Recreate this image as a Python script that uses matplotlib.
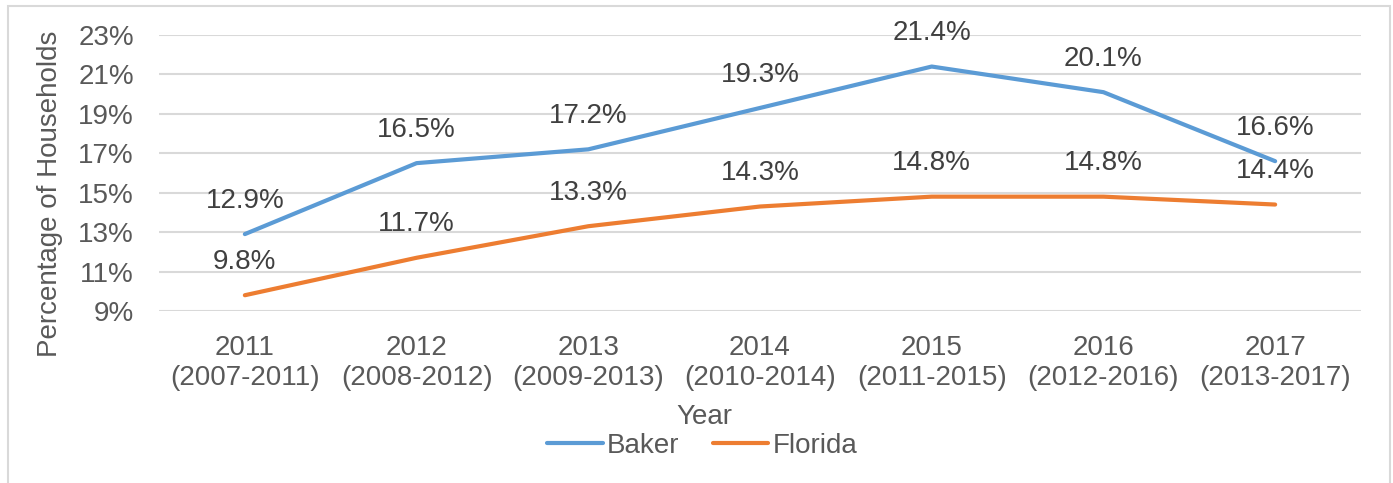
import matplotlib.pyplot as plt
from matplotlib.patches import Rectangle
from matplotlib.ticker import FuncFormatter

plt.rcParams['font.family'] = ['Liberation Sans', 'DejaVu Sans']

# data
years = ['2011\n(2007-2011)', '2012\n(2008-2012)', '2013\n(2009-2013)', '2014\n(2010-2014)',
         '2015\n(2011-2015)', '2016\n(2012-2016)', '2017\n(2013-2017)']
baker = [12.9, 16.5, 17.2, 19.3, 21.4, 20.1, 16.6]
florida = [9.8, 11.7, 13.3, 14.3, 14.8, 14.8, 14.4]
yticks = [9, 11, 13, 15, 17, 19, 21, 23]

grey = '#595959'
fs = 20

fig = plt.figure(figsize=(13.93, 4.83), dpi=100)
ax = fig.add_axes([159 / 1393, 1 - 311 / 483, 1202 / 1393, 276 / 483])

x = range(len(years))
ax.plot(x, baker, color='#5B9BD5', lw=3, solid_capstyle='round', label='Baker', zorder=3)
ax.plot(x, florida, color='#ED7D31', lw=3, solid_capstyle='round', label='Florida', zorder=3)

for i in x:
    ax.annotate(f'{baker[i]:.1f}%', (i, baker[i]), xytext=(0, 24), textcoords='offset points',
                ha='center', va='center', fontsize=fs, color='#404040')
    ax.annotate(f'{florida[i]:.1f}%', (i, florida[i]), xytext=(0, 24), textcoords='offset points',
                ha='center', va='center', fontsize=fs, color='#404040')

ax.set_xlim(-0.5, 6.5)
ax.set_ylim(9, 23)
ax.set_yticks(yticks)
ax.yaxis.set_major_formatter(FuncFormatter(lambda v, p: f'{v:.0f}%'))
ax.set_xticks(list(x))
ax.set_xticklabels(years, linespacing=1.2)
ax.tick_params(axis='both', length=0, labelsize=fs, labelcolor=grey)
ax.tick_params(axis='x', pad=17)
ax.tick_params(axis='y', pad=18)
ax.grid(axis='y', color='#D9D9D9', lw=1.5)
ax.set_axisbelow(True)
for s in ax.spines.values():
    s.set_visible(False)

fig.text(50 / 1393, 1 - 194 / 483, 'Percentage of Households', rotation=90,
         ha='center', va='center', fontsize=fs, color=grey)
fig.text(0.5 + 8 / 1393, 1 - 417 / 483, 'Year', ha='center', va='center', fontsize=fs, color=grey)

fig.legend(loc='center', bbox_to_anchor=(702 / 1393, 1 - 446 / 483), ncol=2, frameon=False,
           fontsize=fs, labelcolor=grey, handlelength=2.0, handletextpad=0.15, columnspacing=1.2)

fig.patches.append(Rectangle((8 / 1393, -0.02), 1382 / 1393, 1.02 - 6 / 483,
                             transform=fig.transFigure, fill=False, edgecolor='#D9D9D9', lw=1.5))

fig.savefig('out.png', dpi=100)
